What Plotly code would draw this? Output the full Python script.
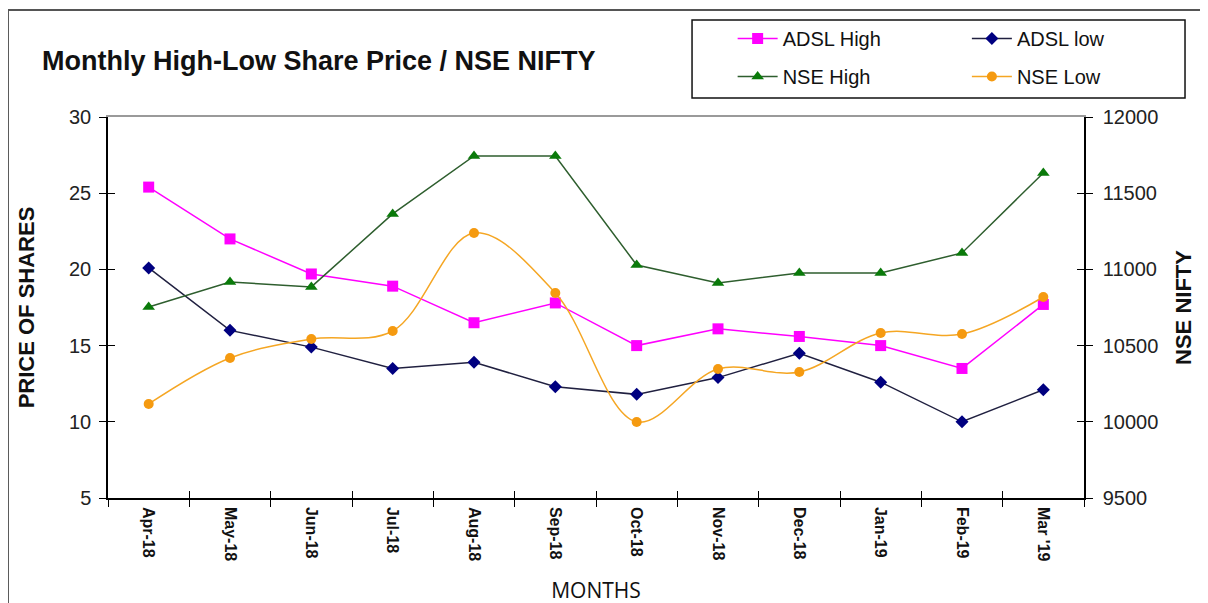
import plotly.graph_objects as go

months = ["Apr-18", "May-18", "Jun-18", "Jul-18", "Aug-18", "Sep-18",
          "Oct-18", "Nov-18", "Dec-18", "Jan-19", "Feb-19", "Mar '19"]
adsl_high = [25.4, 22.0, 19.7, 18.9, 16.5, 17.8, 15.0, 16.1, 15.6, 15.0, 13.5, 17.7]
adsl_low = [20.1, 16.0, 14.9, 13.5, 13.9, 12.3, 11.8, 12.9, 14.5, 12.6, 10.0, 12.1]
nse_high = [10753, 10917, 10885, 11364, 11744, 11744, 11029, 10911, 10976, 10976, 11108, 11633]
nse_low = [10117, 10419, 10543, 10596, 11239, 10845, 9999, 10347, 10327, 10583, 10576, 10819]

left_ticks = [5, 10, 15, 20, 25, 30]
right_ticks = [9500, 10000, 10500, 11000, 11500, 12000]

FONT = "Liberation Sans, Arial, sans-serif"

fig = go.Figure()
fig.add_trace(go.Scatter(x=months, y=adsl_high, name="ADSL High", mode="lines+markers",
                         line=dict(color="#FF00FF", width=1.5),
                         marker=dict(symbol="square", size=11, color="#FF00FF"),
                         legend="legend", legendgroup="a"))
fig.add_trace(go.Scatter(x=months, y=nse_high, name="NSE High", mode="lines+markers",
                         yaxis="y2",
                         line=dict(color="#2E5E2E", width=1.5),
                         marker=dict(symbol="triangle-up", size=11, color="#0A7A0A"),
                         legend="legend", legendgroup="b"))
fig.add_trace(go.Scatter(x=months, y=adsl_low, name="ADSL low", mode="lines+markers",
                         line=dict(color="#202040", width=1.5),
                         marker=dict(symbol="diamond", size=10, color="#000080"),
                         legend="legend2", legendgroup="c"))
fig.add_trace(go.Scatter(x=months, y=nse_low, name="NSE Low", mode="lines+markers",
                         yaxis="y2",
                         line=dict(color="#F5A623", width=1.5, shape="spline", smoothing=1),
                         marker=dict(symbol="circle", size=10, color="#F59A10"),
                         legend="legend2", legendgroup="d"))

# empty helper traces so the overlay axes (inner tick halves, top frame line) are drawn
for xa, ya in (("x2", "y3"), ("x2", "y4"), ("x3", "y")):
    fig.add_trace(go.Scatter(x=[None], y=[None], xaxis=xa, yaxis=ya, showlegend=False,
                             hoverinfo="skip", mode="lines"))

legend_common = dict(font=dict(family=FONT, size=20, color="#111"),
                     bgcolor="rgba(0,0,0,0)", borderwidth=0,
                     tracegroupgap=9, yanchor="top", xanchor="left",
                     itemwidth=40)

fig.update_layout(
    width=1208, height=603,
    margin=dict(l=100, r=132, t=109, b=113, autoexpand=False),
    paper_bgcolor="white", plot_bgcolor="white",
    font=dict(family=FONT, color="#111"),
    title=dict(text="<b>Monthly High-Low Share Price / NSE NIFTY</b>",
               x=34 / 1208, xanchor="left", xref="container",
               y=1 - 53 / 603, yanchor="middle", yref="container",
               font=dict(family=FONT, size=27, color="#111")),
    legend=dict(x=0.640, y=1.257, **legend_common),
    legend2=dict(x=0.880, y=1.257, **legend_common),
    xaxis=dict(type="category", range=[-0.5, 11.5], tickson="boundaries",
               ticks="outside", ticklen=7,
               tickcolor="black", showline=True, linecolor="black", linewidth=1.5,
               showgrid=False, tickangle=90, ticklabelstandoff=4,
               tickfont=dict(family=FONT, size=16, color="#111", weight="bold"),
               title=dict(text="MONTHS", font=dict(family="Open Sans, sans-serif", size=21, color="#111"),
                          standoff=23)),
    xaxis2=dict(overlaying="x", side="bottom", range=[-0.5, 11.5], tickmode="linear",
                tick0=-0.5, dtick=1, ticks="inside", ticklen=7, tickcolor="black",
                showticklabels=False, showgrid=False, showline=False, zeroline=False),
    xaxis3=dict(overlaying="x", side="top", range=[0, 1], showline=True,
                linecolor="#9a9a9a", linewidth=1.5, ticks="", showticklabels=False,
                showgrid=False, zeroline=False),
    yaxis=dict(range=[5, 30], tickvals=left_ticks, ticks="outside", ticklen=7,
               tickcolor="black", showline=True, linecolor="black", linewidth=1.5,
               showgrid=False, zeroline=False, ticklabelstandoff=4,
               tickfont=dict(family=FONT, size=20, color="#222"),
               title=dict(text="<b>PRICE OF SHARES</b>",
                          font=dict(family=FONT, size=22, color="#111"), standoff=28)),
    yaxis2=dict(range=[9500, 12000], tickvals=right_ticks, tickformat="d",
                overlaying="y", side="right",
                ticks="outside", ticklen=7, tickcolor="black", showline=True,
                linecolor="black", linewidth=1.5, showgrid=False, zeroline=False,
                ticklabelstandoff=6,
                tickfont=dict(family=FONT, size=20, color="#222"),
                title=dict(text="<b>NSE NIFTY</b>",
                           font=dict(family=FONT, size=22, color="#111"), standoff=18)),
    yaxis3=dict(range=[5, 30], tickvals=left_ticks, overlaying="y", side="left",
                ticks="inside", ticklen=7, tickcolor="black", showticklabels=False,
                showgrid=False, zeroline=False, showline=False),
    yaxis4=dict(range=[9500, 12000], tickvals=right_ticks, overlaying="y", side="right",
                ticks="inside", ticklen=7, tickcolor="black", showticklabels=False,
                showgrid=False, zeroline=False, showline=False),
    shapes=[
        dict(type="rect", xref="paper", yref="paper", x0=0.5984, x1=1.1035,
             y0=1.0499, y1=1.2546, line=dict(color="#111", width=1.5)),
        dict(type="rect", xref="paper", yref="paper", x0=-0.1025, x1=1.2,
             y0=-0.35, y1=1.281, line=dict(color="#555", width=2)),
    ],
)

fig.write_html("out.html")
